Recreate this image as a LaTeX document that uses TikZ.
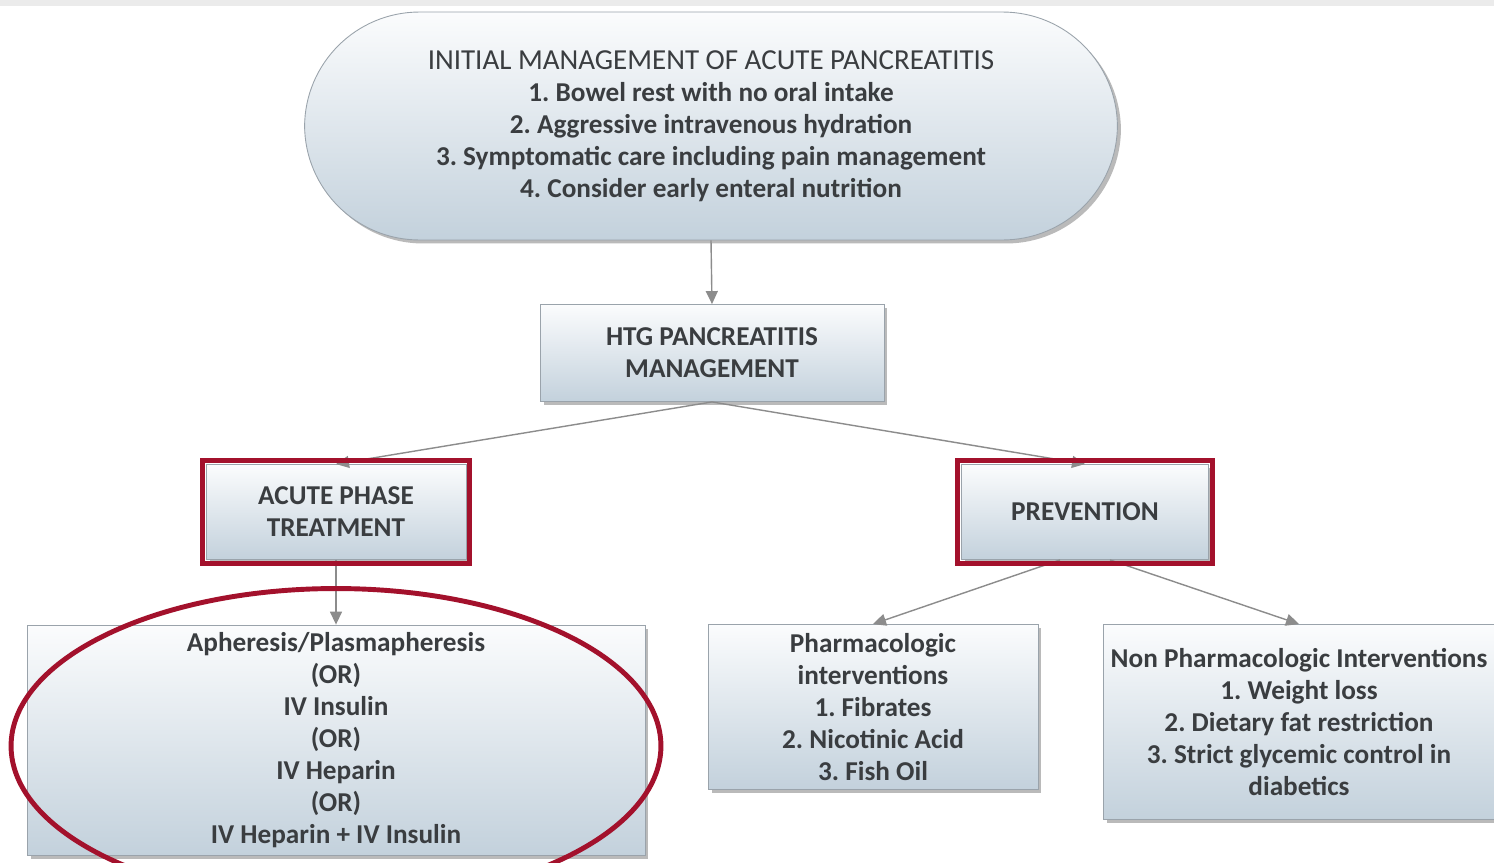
\documentclass[tikz,border=0pt]{standalone}
\usepackage{fontspec}
\setmainfont{Carlito}
\definecolor{BoxTop}{HTML}{FBFCFD}
\definecolor{BoxBottom}{HTML}{C3D1DC}
\definecolor{BoxLine}{HTML}{9AA3AB}
\definecolor{TextGray}{HTML}{3A3D40}
\definecolor{LinkGray}{HTML}{8C8C8C}
\definecolor{MarkRed}{HTML}{A3112C}
\usepackage{tikz}
\usetikzlibrary{arrows.meta,positioning,shapes.geometric,shadows,fit}
\frenchspacing

\begin{document}
\begin{tikzpicture}[x=0.02cm, y=-0.02cm,
      box/.style={draw=BoxLine, line width=0.5pt,
                  top color=BoxTop, bottom color=BoxBottom,
                  text=TextGray, align=center, inner sep=2pt,
                  font=\fontsize{15.5}{18.2}\selectfont\bfseries,
                  drop shadow={shadow xshift=2pt, shadow yshift=-2pt,
                               fill=black!45, opacity=.6}},
      redframe/.style={draw=MarkRed, line width=2.8pt, inner sep=2pt},
      link/.style={-{Triangle[length=2.6mm,width=2.4mm]},
                   LinkGray, line width=0.8pt}]

      \useasboundingbox (0,0) rectangle (1494,862);
      \fill[white] (0,0) rectangle (1494,862);
      \fill[black!8] (0,0) rectangle (1494,6);

      \node[box, rounded corners=2.3cm,
            minimum width=16.26cm, minimum height=4.56cm] (init) at (711,126)
            {{\mdseries\fontsize{16.5}{18.2}\selectfont INITIAL MANAGEMENT OF ACUTE PANCREATITIS}\\
             1. Bowel rest with no oral intake\\
             2. Aggressive intravenous hydration\\
             3. Symptomatic care including pain management\\
             4. Consider early enteral nutrition};

      \node[box, minimum width=6.88cm, minimum height=1.94cm] (htg) at (712,353)
            {HTG PANCREATITIS\\MANAGEMENT};
      \node[box, minimum width=5.2cm, minimum height=1.9cm] (acute) at (336,512)
            {ACUTE PHASE\\TREATMENT};
      \node[box, minimum width=4.95cm, minimum height=1.9cm] (prev) at (1085,512)
            {PREVENTION};

      \node[box, minimum width=12.36cm, minimum height=4.6cm] (treat) at (336,740)
            {Apheresis/Plasmapheresis\\(OR)\\IV Insulin\\(OR)\\IV Heparin\\(OR)\\
             IV Heparin + IV Insulin};
      \node[box, minimum width=6.6cm, minimum height=3.3cm] (pharma) at (873,707)
            {Pharmacologic\\interventions\\1. Fibrates\\2. Nicotinic Acid\\3. Fish Oil};
      \node[box, minimum width=7.84cm, minimum height=3.9cm] (nonpharma) at (1299,722)
            {Non Pharmacologic Interventions\\1. Weight loss\\
             2. Dietary fat restriction\\3. Strict glycemic control in\\diabetics};

      \foreach \src/\dest in {init/htg, htg/acute, htg/prev, acute/treat}
        \draw[link] (\src.south) -- (\dest.north);
      \draw[link] ([xshift=-0.5cm]prev.south) -- (pharma.north);
      \draw[link] ([xshift=0.5cm]prev.south) -- (nonpharma.north);

      % highlighted parts
      \node[redframe, fit=(acute)] (acuteframe) {};
      \node[redframe, fit=(prev)] (prevframe) {};
      \node[ellipse, draw=MarkRed, line width=2.8pt,
            minimum width=13.0cm, minimum height=6.3cm] (focus) at (336,746) {};
    \end{tikzpicture}
\end{document}
